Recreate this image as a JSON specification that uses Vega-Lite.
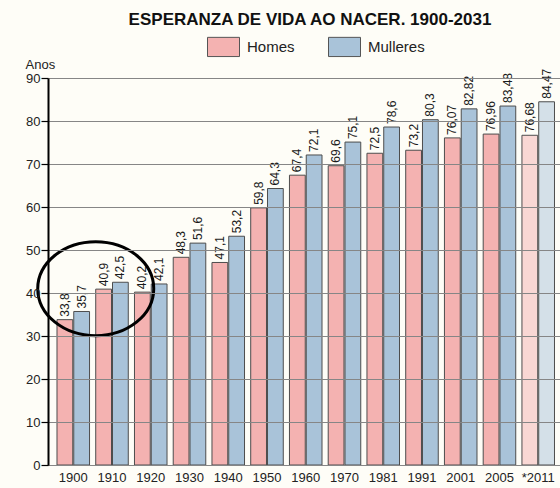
{
  "$schema": "https://vega.github.io/schema/vega-lite/v6.json",
  "width": 512,
  "height": 387,
  "autosize": {"type": "none"},
  "padding": {"left": 48, "top": 78, "right": 0, "bottom": 23},
  "background": "#fefdf7",
  "title": {
    "text": "ESPERANZA DE VIDA AO NACER. 1900-2031",
    "font": "Liberation Sans",
    "fontSize": 17,
    "fontWeight": "bold",
    "color": "#111111",
    "anchor": "middle",
    "frame": "group",
    "baseline": "alphabetic",
    "dx": 6,
    "offset": -12
  },
  "datasets": {
    "life": [
      {"year": "1900", "sex": "Homes", "value": 33.8},
      {"year": "1900", "sex": "Mulleres", "value": 35.7},
      {"year": "1910", "sex": "Homes", "value": 40.9},
      {"year": "1910", "sex": "Mulleres", "value": 42.5},
      {"year": "1920", "sex": "Homes", "value": 40.2},
      {"year": "1920", "sex": "Mulleres", "value": 42.1},
      {"year": "1930", "sex": "Homes", "value": 48.3},
      {"year": "1930", "sex": "Mulleres", "value": 51.6},
      {"year": "1940", "sex": "Homes", "value": 47.1},
      {"year": "1940", "sex": "Mulleres", "value": 53.2},
      {"year": "1950", "sex": "Homes", "value": 59.8},
      {"year": "1950", "sex": "Mulleres", "value": 64.3},
      {"year": "1960", "sex": "Homes", "value": 67.4},
      {"year": "1960", "sex": "Mulleres", "value": 72.1},
      {"year": "1970", "sex": "Homes", "value": 69.6},
      {"year": "1970", "sex": "Mulleres", "value": 75.1},
      {"year": "1981", "sex": "Homes", "value": 72.5},
      {"year": "1981", "sex": "Mulleres", "value": 78.6},
      {"year": "1991", "sex": "Homes", "value": 73.2},
      {"year": "1991", "sex": "Mulleres", "value": 80.3},
      {"year": "2001", "sex": "Homes", "value": 76.07},
      {"year": "2001", "sex": "Mulleres", "value": 82.82},
      {"year": "2005", "sex": "Homes", "value": 76.96},
      {"year": "2005", "sex": "Mulleres", "value": 83.48},
      {"year": "*2011", "sex": "Homes", "value": 76.68},
      {"year": "*2011", "sex": "Mulleres", "value": 84.47}
    ],
    "mark": [
      {"year": "1910", "value": 41}
    ]
  },
  "layer": [
    {
      "data": {"name": "life"},
      "mark": {"type": "bar", "stroke": "#4d4d4d", "strokeWidth": 1},
      "encoding": {
        "x": {"field": "year", "type": "nominal", "sort": null,
              "scale": {"paddingInner": 0.16, "paddingOuter": 0.187, "align": 0.62},
              "axis": {"title": null, "labelAngle": 0, "ticks": false, "labelPadding": 6,
                       "labelFont": "Liberation Sans", "labelFontSize": 13, "labelColor": "#222",
                       "domainColor": "#333", "domainWidth": 1, "grid": false}},
        "xOffset": {"field": "sex", "type": "nominal", "scale": {"paddingInner": 0.06}},
        "y": {"field": "value", "type": "quantitative",
              "scale": {"domain": [0, 90], "nice": false},
              "axis": {"values": [0, 10, 20, 30, 40, 50, 60, 70, 80, 90],
                       "domainColor": "#000", "domainWidth": 2,
                       "tickColor": "#000", "tickSize": 7, "tickWidth": 1.2,
                       "labelFont": "Liberation Sans", "labelFontSize": 13, "labelColor": "#222", "labelPadding": 1,
                       "grid": true, "gridColor": "#868686", "gridWidth": 1, "zindex": 1,
                       "title": "Anos", "titleAngle": 0, "titleX": -23, "titleY": -10,
                       "titleAlign": "left", "titleBaseline": "alphabetic",
                       "titleFont": "Liberation Sans", "titleFontSize": 13, "titleFontWeight": "normal", "titleColor": "#222"}},
        "color": {"field": "sex", "type": "nominal",
                  "scale": {"domain": ["Homes", "Mulleres"], "range": ["#f4b2b1", "#a9c3d9"]},
                  "legend": {"orient": "none", "legendX": 159, "legendY": -48, "direction": "horizontal",
                             "title": null, "padding": 0,
                             "symbolType": "M-1,-0.6H1V0.6H-1Z", "symbolSize": 1024,
                             "symbolStrokeColor": "#555", "symbolStrokeWidth": 1, "symbolOpacity": 1,
                             "labelFont": "Liberation Sans", "labelFontSize": 15, "labelColor": "#222",
                             "labelOffset": 7, "columnPadding": 31}},
        "fillOpacity": {"condition": {"test": "datum.year === '*2011'", "value": 0.5}, "value": 1}
      }
    },
    {
      "data": {"name": "life"},
      "mark": {"type": "text", "angle": 270, "align": "left", "baseline": "middle", "dx": 3,
               "font": "Liberation Sans", "fontSize": 12, "color": "#1a1a1a"},
      "encoding": {
        "x": {"field": "year", "type": "nominal", "sort": null},
        "xOffset": {"field": "sex", "type": "nominal"},
        "y": {"field": "value", "type": "quantitative"},
        "text": {"field": "value", "type": "quantitative"}
      }
    },
    {
      "data": {"name": "mark"},
      "mark": {"type": "point", "shape": "M-1,0A1,0.81,0,1,0,1,0A1,0.81,0,1,0,-1,0Z",
               "size": 13456, "filled": false, "stroke": "#000", "strokeWidth": 3, "opacity": 1},
      "encoding": {
        "x": {"field": "year", "type": "nominal", "sort": null, "bandPosition": 0},
        "y": {"field": "value", "type": "quantitative"}
      }
    }
  ],
  "config": {
    "locale": {"number": {"decimal": ",", "thousands": ".", "grouping": [3], "currency": ["", " €"]}},
    "view": {"stroke": null}
  }
}
